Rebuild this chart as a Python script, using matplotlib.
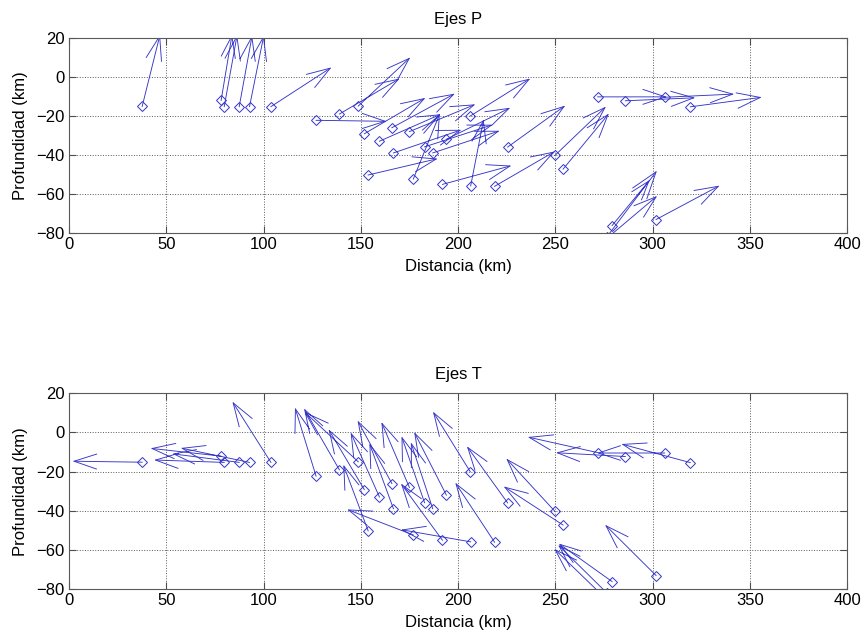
import numpy as np
import matplotlib
matplotlib.use("Agg")
import matplotlib.pyplot as plt

plt.rcParams['font.family'] = ['Liberation Sans', 'DejaVu Sans']

# ─── DATA ─────────────────────────────────────────────────────────────────────
# event locations (km)
dist = [37.6, 78.2, 79.8, 87.5, 92.8, 103.8, 127.0, 139.0, 148.7, 151.8,
        166.0, 175.0, 159.6, 166.8, 182.8, 187.0, 194.0, 153.8, 177.0, 192.0,
        206.5, 218.8, 206.3, 225.5, 249.8, 254.0, 271.8, 286.0, 306.2, 319.4,
        279.2, 301.8, 276.5, 275.0]
depth = [-15.2, -12.1, -15.3, -15.3, -15.3, -15.3, -22.3, -19.1, -15.0, -29.2,
         -26.1, -28.1, -33.0, -39.0, -35.9, -39.0, -32.0, -50.3, -52.4, -55.1,
         -55.9, -56.1, -20.1, -36.0, -40.3, -47.3, -10.3, -12.3, -10.5, -15.4,
         -76.2, -73.1, -82.0, -84.0]

# P axes projection (km)
p_dx = [9.0, 5.5, 6.5, 6.5, 7.2, 30.5, 35.5, 30.3, 26.2, 30.8,
        31.7, 33.2, 30.8, 34.2, 34.3, 33.7, 32.2, 35.0, 13.4, 34.7,
        6.5, 30.3, 30.2, 29.0, 25.7, 23.1, 34.8, 35.2, 35.0, 36.0,
        18.9, 32.0, 25.3, 26.8]
p_dy = [36.0, 33.0, 36.0, 35.7, 35.7, 19.7, -0.5, 17.8, 24.4, 18.0,
        17.1, 13.7, 13.5, 11.6, 11.1, 11.1, 15.8, 8.2, 32.9, 9.4,
        33.3, 17.5, 18.8, 20.8, 24.5, 27.9, 0.0, 1.5, 1.6, 4.8,
        22.8, 17.0, 33.3, 22.5]

# T axes projection (km)
t_dx = [-35.0, -35.5, -35.3, -33.6, -34.6, -19.4, -10.6, -17.8, -27.2, -18.0,
        -17.3, -14.1, -14.5, -12.1, -11.6, -11.0, -16.2, -12.5, -33.3, -20.9,
        -35.1, -19.8, -18.8, -20.5, -24.5, -29.9, -35.2, -34.9, -34.0, -34.7,
        -26.8, -25.7, -24.5, -25.0]
t_dy = [0.5, 3.9, 1.2, 4.3, 7.2, 30.4, 34.3, 30.7, 25.1, 30.2,
        31.5, 32.7, 32.3, 32.7, 33.2, 33.2, 31.5, 33.1, 12.8, 28.4,
        6.1, 29.8, 30.1, 28.3, 26.4, 19.3, 7.8, 1.9, 0.0, 9.3,
        19.0, 25.4, 24.0, 24.0]

PANELS = [('Ejes P', p_dx, p_dy), ('Ejes T', t_dx, t_dy)]
BLUE = '#3535c8'


# ─── MATLAB-style quiver (open arrow heads) ───────────────────────────────────
def quiver_lines(ax, x, y, u, v, alpha=0.33, beta=0.33):
    x, y, u, v = map(np.asarray, (x, y, u, v))
    nan = np.full_like(x, np.nan)
    # shafts
    sx = np.column_stack([x, x + u, nan]).ravel()
    sy = np.column_stack([y, y + v, nan]).ravel()
    # heads
    hx = np.column_stack([x + u - alpha * (u + beta * v), x + u,
                          x + u - alpha * (u - beta * v), nan]).ravel()
    hy = np.column_stack([y + v - alpha * (v - beta * u), y + v,
                          y + v - alpha * (v + beta * u), nan]).ravel()
    ax.plot(sx, sy, color=BLUE, lw=0.65)
    ax.plot(hx, hy, color=BLUE, lw=0.65)


fig = plt.figure(figsize=(8.67, 6.41), dpi=100)
positions = [[0.0796, 0.6365, 0.8974, 0.3047],
             [0.0796, 0.0811, 0.8974, 0.3053]]

for (title, dx, dy), pos in zip(PANELS, positions):
    ax = fig.add_axes(pos)
    quiver_lines(ax, dist, depth, dx, dy)
    ax.plot(dist, depth, 'D', color=BLUE, mfc='none', ms=5, mew=0.7)
    ax.set_xlim(0, 400)
    ax.set_ylim(-80, 20)
    ax.set_xticks(np.arange(0, 401, 50))
    ax.set_yticks(np.arange(-80, 21, 20))
    ax.grid(True, linestyle=':', color='0.35', linewidth=0.7)
    ax.tick_params(direction='in', top=True, right=True, length=5,
                   labelsize=12, color='0.3', pad=3)
    for s in ax.spines.values():
        s.set_color('0.35')
    ax.set_title(title, fontsize=12, pad=10)
    ax.set_xlabel('Distancia (km)', fontsize=12, labelpad=5)
    ax.set_ylabel('Profundidad (km)', fontsize=12, labelpad=6)

plt.savefig('out.png', dpi=100)
